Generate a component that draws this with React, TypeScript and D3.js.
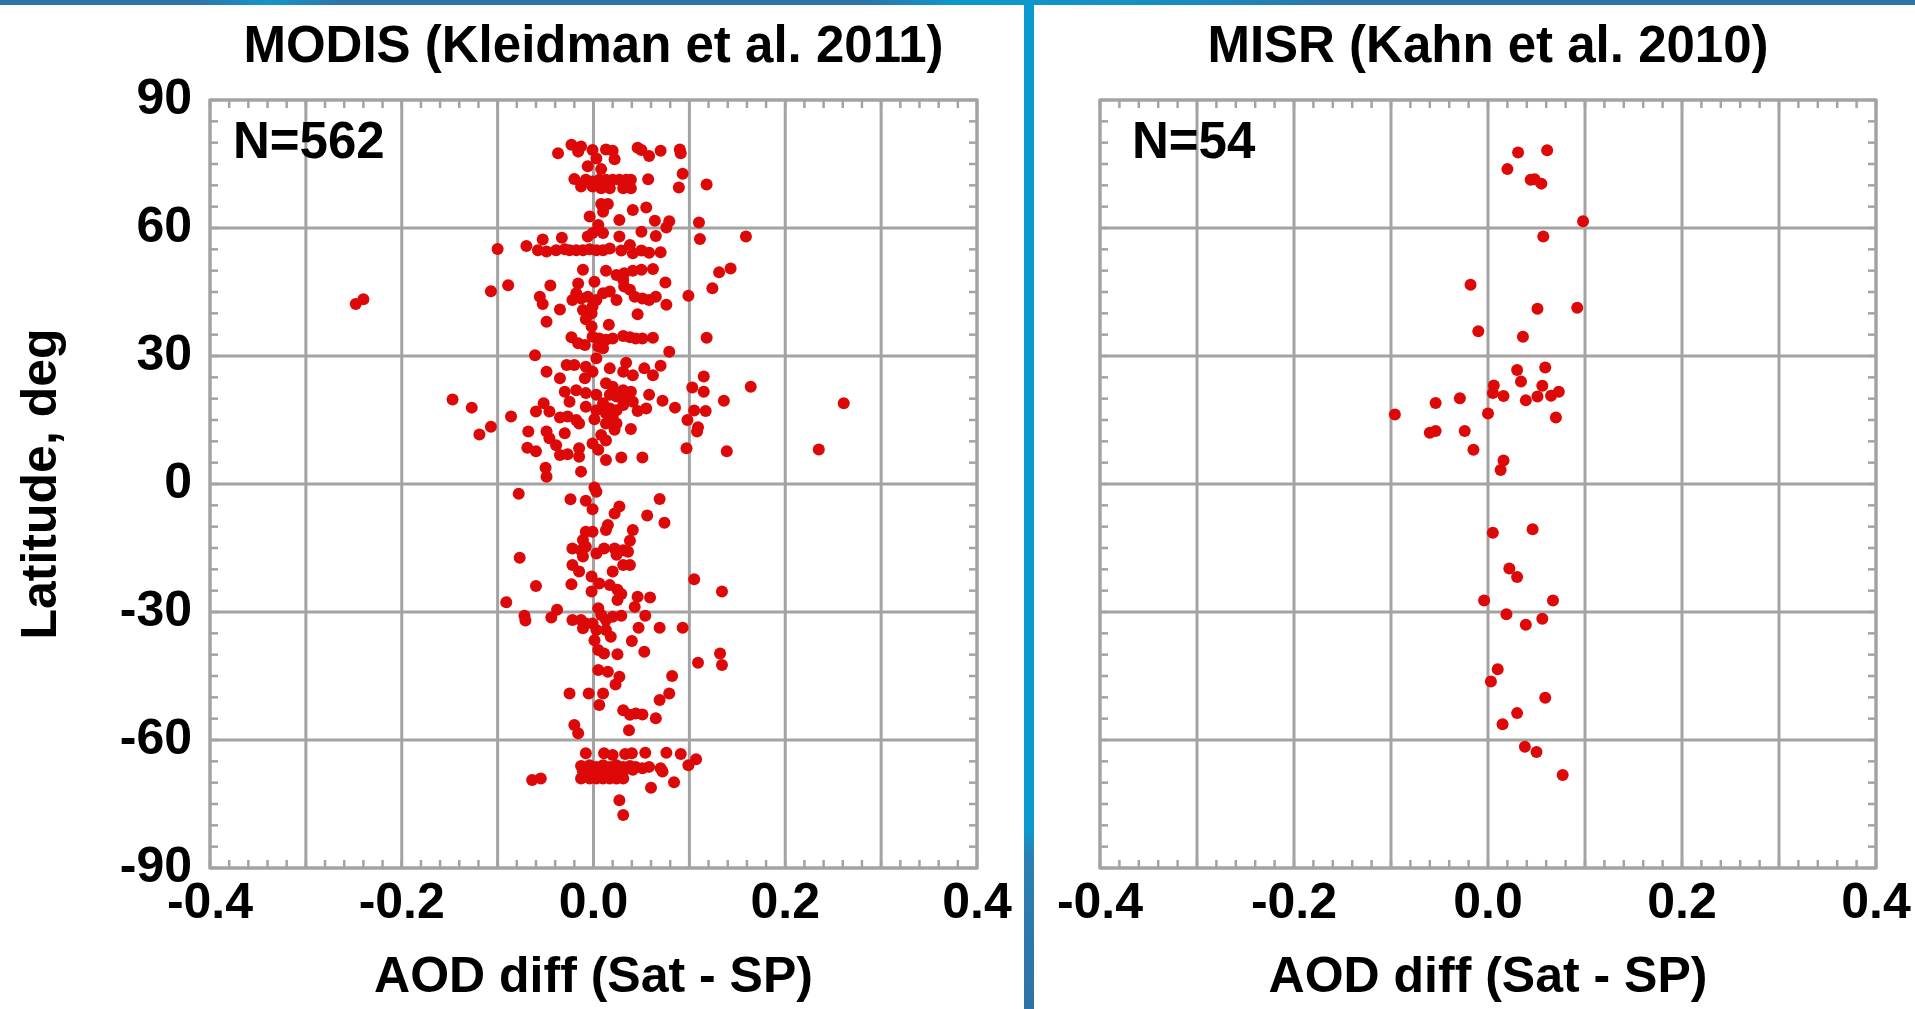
import React from 'react';
import * as d3 from 'd3';

// ---- data (AOD difference satellite minus sun photometer, latitude in deg) ----
const panelTitles = ['MODIS (Kleidman et al. 2011)', 'MISR (Kahn et al. 2010)'];
const sampleLabels = ['N=562', 'N=54'];
const xTickValues = [-0.4, -0.2, 0.0, 0.2, 0.4];
const xTickLabels = ['-0.4', '-0.2', '0.0', '0.2', '0.4'];
const yTickValues = [90, 60, 30, 0, -30, -60, -90];
const yTickLabels = ['90', '60', '30', '0', '-30', '-60', '-90'];
const xAxisTitle = 'AOD diff (Sat - SP)';
const yAxisTitle = 'Latitude, deg';

const modisPoints: [number, number][] = [
  [-0.023, 79.5], [-0.013, 79.1], [-0.016, 77.9], [-0.037, 77.5], [-0.001, 78.3], [0.013, 78.4],
  [0.020, 78.1], [0.022, 76.1], [0.003, 76.3], [0.046, 78.8], [0.050, 78.3], [0.058, 76.9],
  [0.070, 78.1], [0.090, 78.4], [0.091, 77.5], [-0.006, 74.5], [0.008, 73.8],
  [-0.020, 71.5], [-0.013, 69.7], [-0.008, 71.3], [-0.001, 70.9], [0.006, 71.3], [0.013, 71.3],
  [0.020, 71.3], [0.027, 71.3], [0.034, 71.3], [0.039, 71.3], [0.031, 69.3], [0.039, 69.3],
  [0.017, 69.3], [0.008, 69.3], [-0.001, 69.7], [0.057, 71.4], [0.093, 72.7], [0.089, 69.5],
  [0.118, 70.2],
  [0.008, 65.6], [0.015, 65.6], [0.010, 63.8], [0.041, 64.2], [0.055, 64.8], [-0.004, 62.7],
  [0.027, 61.9], [0.064, 61.7], [0.079, 61.6], [0.076, 60.1], [0.110, 61.3], [0.005, 60.7],
  [-0.001, 58.8], [0.010, 58.8], [-0.006, 58.0], [0.050, 59.1], [0.065, 58.1], [0.027, 58.0],
  [0.111, 57.4], [0.159, 58.0],
  [-0.100, 55.1], [-0.070, 55.8], [-0.058, 54.8], [-0.053, 57.3], [-0.049, 54.5], [-0.033, 57.7],
  [-0.039, 54.8], [-0.030, 55.0], [-0.025, 54.8], [-0.018, 54.8], [-0.011, 54.8], [-0.004, 55.0],
  [0.003, 54.8], [0.010, 54.8], [0.017, 55.2], [0.029, 54.7], [0.038, 56.0], [0.041, 54.1],
  [0.050, 54.7], [0.058, 54.2], [0.070, 54.3],
  [-0.011, 50.2], [0.013, 50.0], [0.024, 49.0], [0.032, 49.4], [0.041, 50.0], [0.050, 50.2],
  [0.062, 50.4], [0.143, 50.5], [0.131, 49.6], [0.124, 45.9], [0.099, 44.1], [0.075, 47.2],
  [-0.107, 45.2], [-0.089, 46.6], [-0.045, 46.5], [-0.056, 43.9], [-0.053, 42.2], [-0.035, 40.9],
  [-0.016, 47.0], [0.001, 47.4], [-0.018, 44.7], [-0.022, 43.1], [-0.013, 43.5], [-0.006, 43.9],
  [0.003, 43.1], [0.010, 44.7], [0.017, 45.1], [0.024, 43.1], [0.031, 47.8], [0.032, 46.3],
  [0.038, 45.5], [0.043, 43.9], [0.051, 43.5], [0.058, 43.1], [0.065, 43.9], [0.076, 42.0],
  [0.046, 39.8], [-0.001, 41.6], [-0.011, 40.8], [-0.002, 40.0], [-0.049, 38.0], [-0.008, 38.6],
  [-0.002, 36.9], [0.016, 37.3], [-0.248, 42.2], [-0.240, 43.3],
  [-0.023, 34.4], [-0.016, 33.0], [-0.009, 32.6], [-0.001, 34.5], [0.006, 34.1], [0.013, 33.8],
  [0.020, 34.1], [0.031, 34.7], [0.038, 34.4], [0.044, 34.1], [0.051, 34.1], [0.062, 34.3],
  [0.118, 34.3], [0.079, 31.0], [0.005, 32.2], [0.010, 31.8],
  [-0.061, 30.2], [-0.049, 26.3], [-0.035, 24.8], [-0.028, 27.9], [-0.020, 27.9], [-0.008, 27.5],
  [0.003, 29.5], [-0.001, 26.3], [-0.009, 24.8], [0.017, 27.1], [0.034, 28.4], [0.031, 26.3],
  [0.041, 25.5], [0.053, 27.1], [0.062, 25.5], [0.070, 27.7], [0.115, 25.2], [0.103, 22.6],
  [0.115, 21.6], [0.164, 22.8], [0.136, 19.5], [0.058, 20.9], [0.072, 19.5], [-0.030, 21.6],
  [-0.018, 22.0], [-0.008, 21.3], [0.003, 20.9], [-0.025, 19.3], [0.013, 23.6], [0.020, 22.8],
  [0.031, 22.0], [0.039, 21.6], [0.017, 20.9], [0.024, 20.5], [0.032, 20.1], [0.041, 19.3],
  [0.010, 18.9], [0.017, 17.7], [0.024, 17.3], [0.031, 18.5], [-0.147, 19.8], [-0.127, 17.9],
  [-0.086, 15.8], [-0.060, 17.0], [-0.052, 18.9], [-0.046, 17.0], [-0.035, 15.6], [-0.027, 15.8],
  [-0.018, 15.0], [-0.015, 14.2], [-0.008, 18.1], [0.003, 17.3], [0.001, 15.2], [0.013, 16.6],
  [0.020, 15.8], [0.013, 14.2], [0.024, 14.2], [0.022, 12.7], [0.039, 12.9], [0.046, 17.1],
  [0.055, 17.7], [0.085, 17.9], [0.105, 17.2], [0.117, 17.1], [0.098, 15.0], [0.109, 13.3],
  [0.108, 12.3], [-0.107, 13.4], [-0.119, 11.6], [-0.068, 12.3], [-0.049, 12.3], [-0.046, 10.7],
  [-0.039, 9.1], [-0.030, 11.9], [-0.069, 8.5], [-0.060, 7.7], [-0.035, 6.8], [-0.027, 7.0],
  [-0.015, 8.4], [-0.015, 6.4], [-0.001, 9.5], [0.008, 11.5], [0.013, 10.2], [0.005, 8.0],
  [0.013, 5.6], [0.029, 6.2], [0.051, 6.2], [0.097, 8.4], [0.139, 7.7], [0.235, 8.1],
  [0.261, 18.9], [-0.050, 3.8], [-0.013, 2.9], [-0.049, 1.7],
  [0.001, -0.8], [0.003, -1.8], [-0.078, -2.3], [-0.024, -3.6], [-0.008, -3.9], [-0.001, -5.9],
  [0.069, -3.5], [0.027, -5.3], [0.022, -6.9], [0.056, -7.4], [0.074, -9.1], [0.041, -10.8],
  [0.015, -9.6], [0.013, -10.8], [-0.008, -11.2], [-0.001, -11.2], [-0.011, -13.1], [0.038, -13.3],
  [-0.022, -15.1], [-0.013, -15.5], [-0.008, -14.7], [-0.011, -17.0], [0.003, -16.3], [0.011, -15.1],
  [0.022, -15.1], [0.031, -15.5], [0.036, -15.9], [0.024, -16.6], [0.031, -19.0], [0.038, -19.0],
  [0.020, -20.5], [-0.077, -17.3], [-0.022, -19.0], [-0.015, -20.5], [-0.002, -21.7], [0.006, -23.3],
  [0.017, -23.7], [-0.023, -23.5], [-0.060, -23.9], [-0.002, -25.2], [0.025, -24.8], [0.029, -25.8],
  [0.025, -27.2], [0.046, -26.4], [0.059, -26.6], [0.043, -28.8], [-0.091, -27.7], [0.105, -22.3],
  [0.134, -25.2],
  [-0.072, -30.9], [-0.071, -32.0], [-0.044, -31.3], [-0.038, -29.5], [-0.022, -31.9], [-0.013, -31.9],
  [-0.008, -32.7], [-0.011, -33.8], [-0.001, -32.7], [0.005, -29.1], [0.008, -30.7], [0.013, -31.9],
  [0.020, -31.1], [0.029, -30.9], [0.003, -34.2], [0.013, -34.2], [0.018, -35.8], [0.001, -36.6],
  [0.054, -30.9], [0.047, -33.7], [0.069, -33.7], [0.093, -33.7], [0.040, -36.8], [0.053, -39.3],
  [0.005, -38.9], [0.011, -39.7], [0.025, -39.9], [0.109, -41.9], [0.132, -39.7], [0.134, -42.4],
  [0.005, -43.6], [0.015, -44.0], [0.027, -45.2], [0.023, -47.0], [0.082, -45.0], [0.079, -49.1],
  [0.069, -50.6], [-0.025, -49.1], [-0.005, -49.1], [0.010, -49.1], [0.006, -51.8], [0.031, -53.0],
  [0.038, -54.1], [0.044, -53.8], [0.051, -54.0], [0.065, -54.9], [0.037, -57.7], [-0.020, -56.5],
  [-0.016, -58.4],
  [-0.008, -63.1], [0.011, -63.1], [0.020, -63.5], [0.033, -63.3], [0.040, -63.1], [0.054, -63.0],
  [0.076, -63.0], [0.091, -63.3], [0.107, -64.5], [0.099, -65.9], [-0.013, -66.1], [-0.004, -65.9],
  [0.003, -66.3], [0.010, -65.9], [0.017, -66.3], [0.024, -65.9], [0.031, -66.3], [0.038, -66.1],
  [0.044, -66.3], [0.051, -66.6], [0.058, -66.3], [0.070, -66.6], [0.072, -67.4], [-0.013, -69.0],
  [-0.004, -69.0], [0.003, -69.0], [0.010, -69.0], [0.017, -69.0], [0.024, -69.0], [0.031, -69.0],
  [-0.011, -67.4], [-0.001, -67.7], [0.010, -67.7], [0.020, -67.7], [0.031, -67.4], [0.041, -67.0],
  [0.060, -71.2], [0.084, -69.9], [-0.064, -69.4], [-0.055, -69.0], [0.027, -74.1], [0.031, -77.6],
];

const misrPoints: [number, number][] = [
  [0.031, 77.7], [0.061, 78.2], [0.020, 73.8], [0.044, 71.3], [0.048, 71.4], [0.055, 70.4],
  [0.098, 61.6], [0.057, 58.0], [-0.018, 46.7], [0.051, 41.1], [0.092, 41.3], [-0.010, 35.8],
  [0.036, 34.5], [0.030, 26.7], [0.059, 27.3], [0.034, 24.0], [0.056, 23.0], [0.006, 23.1],
  [0.005, 21.3], [0.016, 20.6], [0.039, 19.6], [0.051, 20.5], [0.065, 20.7], [0.073, 21.6],
  [-0.054, 19.0], [-0.029, 20.1], [-0.096, 16.3], [0.000, 16.5], [0.070, 15.6], [-0.060, 12.0],
  [-0.054, 12.4], [-0.024, 12.4], [-0.015, 8.0], [0.016, 5.5], [0.013, 3.3],
  [0.005, -11.4], [0.046, -10.6], [0.022, -19.8], [0.030, -21.8], [-0.004, -27.3], [0.067, -27.3],
  [0.019, -30.5], [0.039, -33.0], [0.056, -31.6], [0.010, -43.4], [0.003, -46.3], [0.059, -50.1],
  [0.030, -53.7], [0.015, -56.3], [0.038, -61.6], [0.050, -62.8], [0.077, -68.2],
];

const W = 1915;
const H = 1009;
const FONT = "'Liberation Sans', Arial, Helvetica, sans-serif";
const GRID = '#a3a3a3';
const DOT = '#dd0808';

type PanelProps = {
  title: string;
  label: string;
  points: [number, number][];
  left: number;
  right: number;
  labelX: number;
  showYAxis: boolean;
};

function Panel({ title, label, points, left, right, labelX, showYAxis }: PanelProps) {
  const top = 100;
  const bottom = 868;
  const x = d3.scaleLinear().domain([-0.4, 0.4]).range([left, right]);
  const y = d3.scaleLinear().domain([-90, 90]).range([bottom, top]);
  const majorX = x.ticks(8);
  const minorX = x.ticks(40);
  const minorY = d3.range(-90, 91, 5);
  const tl = 8;
  const cx = (left + right) / 2;

  return (
    <g>
      <text x={cx} y={62} textAnchor="middle" fontSize={51} fontWeight="bold">{title}</text>

      {/* grid */}
      {majorX.map((v) => (
        <line key={'gx' + v} x1={x(v)} x2={x(v)} y1={top} y2={bottom} stroke={GRID} strokeWidth={3} />
      ))}
      {yTickValues.map((v) => (
        <line key={'gy' + v} x1={left} x2={right} y1={y(v)} y2={y(v)} stroke={GRID} strokeWidth={3} />
      ))}
      {/* minor ticks, inward on all sides */}
      {minorX.map((v) => (
        <g key={'mx' + v}>
          <line x1={x(v)} x2={x(v)} y1={top} y2={top + tl} stroke={GRID} strokeWidth={2.5} />
          <line x1={x(v)} x2={x(v)} y1={bottom} y2={bottom - tl} stroke={GRID} strokeWidth={2.5} />
        </g>
      ))}
      {minorY.map((v) => (
        <g key={'my' + v}>
          <line x1={left} x2={left + tl} y1={y(v)} y2={y(v)} stroke={GRID} strokeWidth={2.5} />
          <line x1={right} x2={right - tl} y1={y(v)} y2={y(v)} stroke={GRID} strokeWidth={2.5} />
        </g>
      ))}
      <rect x={left} y={top} width={right - left} height={bottom - top} fill="none" stroke={GRID} strokeWidth={3} />

      {/* points */}
      {points.map((d, i) => (
        <circle key={i} cx={x(d[0])} cy={y(d[1])} r={6} fill={DOT} />
      ))}

      <text x={labelX} y={158} fontSize={51} fontWeight="bold">{label}</text>

      {/* x tick labels */}
      {xTickValues.map((v, i) => (
        <text key={'xl' + v} x={x(v)} y={918} textAnchor="middle" fontSize={50} fontWeight="bold">{xTickLabels[i]}</text>
      ))}
      <text x={cx} y={992} textAnchor="middle" fontSize={50} fontWeight="bold">{xAxisTitle}</text>

      {showYAxis && yTickValues.map((v, i) => (
        <text key={'yl' + v} x={left - 18} y={y(v) + 14} textAnchor="end" fontSize={50} fontWeight="bold">{yTickLabels[i]}</text>
      ))}
      {showYAxis && (
        <text transform={`translate(56,${(top + bottom) / 2}) rotate(-90)`} textAnchor="middle" fontSize={50} fontWeight="bold">
          {yAxisTitle}
        </text>
      )}
    </g>
  );
}

export default function App() {
  return (
    <div style={{ position: 'absolute', left: 0, top: 0, width: W, height: H, background: '#fff' }}>
      <svg width={W} height={H} style={{ display: 'block', fontFamily: FONT }}>
        <defs>
          <linearGradient id="topBar" x1="0" y1="0" x2="1" y2="0">
            <stop offset="0%" stopColor="#2e74a8" />
            <stop offset="10%" stopColor="#2e74a8" />
            <stop offset="14%" stopColor="#1495c8" />
            <stop offset="18%" stopColor="#2e74a8" />
            <stop offset="45%" stopColor="#2e74a8" />
            <stop offset="50%" stopColor="#0c99cc" />
            <stop offset="62%" stopColor="#1a8cc0" />
            <stop offset="70%" stopColor="#2e74a8" />
            <stop offset="100%" stopColor="#2e74a8" />
          </linearGradient>
          <linearGradient id="divider" x1="0" y1="0" x2="0" y2="1">
            <stop offset="0%" stopColor="#0a9ace" />
            <stop offset="82%" stopColor="#0a9ace" />
            <stop offset="85%" stopColor="#2a80b4" />
            <stop offset="100%" stopColor="#2e72a6" />
          </linearGradient>
        </defs>
        <rect x={0} y={0} width={W} height={H} fill="#fff" />
        <rect x={0} y={0} width={W} height={5} fill="url(#topBar)" />
        <rect x={1024} y={0} width={10} height={H} fill="url(#divider)" />

        <Panel title={panelTitles[0]} label={sampleLabels[0]} points={modisPoints}
          left={210} right={977} labelX={233} showYAxis={true} />
        <Panel title={panelTitles[1]} label={sampleLabels[1]} points={misrPoints}
          left={1100} right={1876} labelX={1132} showYAxis={false} />
      </svg>
    </div>
  );
}
